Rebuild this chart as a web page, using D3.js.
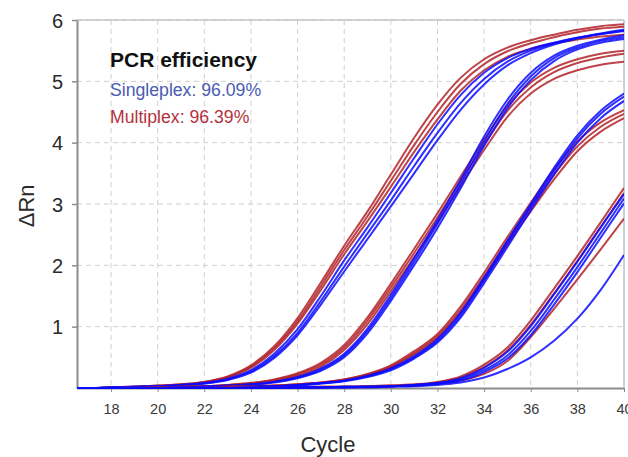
<!DOCTYPE html>
<html>
<head>
<meta charset="utf-8">
<script src="https://cdn.jsdelivr.net/npm/d3@7"></script>
<style>
  body { margin: 0; background: #fff; }
  #app { width: 628px; height: 457px; }
  .tick text { font-family: "Liberation Sans", Arial, sans-serif; }
</style>
</head>
<body>
<div id="app"></div>
<script>
const MARGIN = { top: 20, right: 4, bottom: 69, left: 77 }
const OUTER = { width: 628, height: 457 }
const INNER = {
  width: OUTER.width - MARGIN.left - MARGIN.right,
  height: OUTER.height - MARGIN.top - MARGIN.bottom,
};

// cycle numbers for each reading
const cycles = [16, 17, 18, 19, 20, 21, 22, 23, 24, 25, 26, 27, 28, 29, 30, 31, 32, 33, 34, 35, 36, 37, 38, 39, 40]
const xTicks = [18, 20, 22, 24, 26, 28, 30, 32, 34, 36, 38, 40]
const yTicks = [1, 2, 3, 4, 5, 6]

// multiplex (red) runs, four dilutions
const multiA1 = [0, 0, 0.01, 0.02, 0.04, 0.06, 0.1, 0.19, 0.37, 0.68, 1.14, 1.72, 2.32, 2.88, 3.48, 4.08, 4.62, 5.06, 5.36, 5.55, 5.67, 5.76, 5.84, 5.9, 5.93]
const multiA2 = [0, 0, 0.01, 0.02, 0.04, 0.06, 0.1, 0.18, 0.35, 0.65, 1.09, 1.66, 2.25, 2.8, 3.38, 3.96, 4.5, 4.96, 5.28, 5.49, 5.62, 5.72, 5.8, 5.86, 5.89]
const multiA3 = [0, 0, 0.01, 0.02, 0.03, 0.05, 0.09, 0.17, 0.33, 0.62, 1.05, 1.6, 2.18, 2.72, 3.28, 3.85, 4.38, 4.85, 5.18, 5.4, 5.53, 5.62, 5.68, 5.73, 5.76]
const multiB1 = [0, 0, 0, 0.01, 0.01, 0.02, 0.03, 0.05, 0.08, 0.14, 0.24, 0.41, 0.7, 1.15, 1.7, 2.27, 2.85, 3.45, 4.05, 4.6, 4.98, 5.22, 5.36, 5.45, 5.5]
const multiB2 = [0, 0, 0, 0.01, 0.01, 0.02, 0.03, 0.05, 0.08, 0.13, 0.22, 0.38, 0.66, 1.1, 1.64, 2.2, 2.78, 3.38, 3.97, 4.52, 4.9, 5.15, 5.3, 5.39, 5.45]
const multiB3 = [0, 0, 0, 0.01, 0.01, 0.02, 0.03, 0.04, 0.07, 0.12, 0.2, 0.35, 0.62, 1.04, 1.58, 2.13, 2.7, 3.3, 3.88, 4.42, 4.8, 5.04, 5.18, 5.27, 5.32]
const multiC1 = [0, 0, 0, 0, 0.01, 0.01, 0.01, 0.02, 0.03, 0.04, 0.06, 0.09, 0.14, 0.23, 0.37, 0.6, 0.88, 1.33, 1.88, 2.46, 3.02, 3.56, 4.02, 4.33, 4.53]
const multiC2 = [0, 0, 0, 0, 0.01, 0.01, 0.01, 0.02, 0.03, 0.04, 0.06, 0.09, 0.14, 0.22, 0.35, 0.57, 0.85, 1.28, 1.82, 2.4, 2.95, 3.48, 3.94, 4.26, 4.47]
const multiC3 = [0, 0, 0, 0, 0, 0.01, 0.01, 0.02, 0.02, 0.03, 0.05, 0.08, 0.13, 0.21, 0.34, 0.55, 0.82, 1.24, 1.77, 2.34, 2.88, 3.4, 3.86, 4.18, 4.4]
const multiD1 = [0, 0, 0, 0, 0, 0, 0, 0.01, 0.01, 0.01, 0.01, 0.02, 0.02, 0.03, 0.04, 0.06, 0.1, 0.19, 0.38, 0.66, 1.1, 1.62, 2.15, 2.7, 3.26]
const multiD2 = [0, 0, 0, 0, 0, 0, 0, 0.01, 0.01, 0.01, 0.01, 0.02, 0.02, 0.03, 0.04, 0.05, 0.09, 0.17, 0.34, 0.61, 1.03, 1.54, 2.07, 2.62, 3.18]
const multiD3 = [0, 0, 0, 0, 0, 0, 0, 0, 0.01, 0.01, 0.01, 0.01, 0.02, 0.02, 0.03, 0.04, 0.07, 0.12, 0.23, 0.44, 0.83, 1.29, 1.77, 2.26, 2.76]

// singleplex (blue) runs
const singleA1 = [0, 0, 0.01, 0.02, 0.03, 0.05, 0.08, 0.15, 0.29, 0.56, 0.96, 1.5, 2.08, 2.62, 3.18, 3.75, 4.3, 4.78, 5.14, 5.38, 5.53, 5.63, 5.71, 5.77, 5.83]
const singleA2 = [0, 0, 0.01, 0.02, 0.03, 0.05, 0.08, 0.14, 0.27, 0.52, 0.9, 1.42, 1.98, 2.52, 3.06, 3.62, 4.16, 4.65, 5.04, 5.32, 5.5, 5.62, 5.71, 5.78, 5.84]
const singleA3 = [0, 0, 0.01, 0.01, 0.03, 0.04, 0.07, 0.13, 0.25, 0.49, 0.86, 1.36, 1.9, 2.43, 2.96, 3.5, 4.04, 4.54, 4.95, 5.26, 5.46, 5.6, 5.7, 5.77, 5.82]
const singleB1 = [0, 0, 0, 0.01, 0.01, 0.02, 0.02, 0.04, 0.06, 0.1, 0.18, 0.32, 0.56, 0.97, 1.52, 2.12, 2.74, 3.4, 4.1, 4.7, 5.14, 5.42, 5.58, 5.68, 5.75]
const singleB2 = [0, 0, 0, 0.01, 0.01, 0.01, 0.02, 0.04, 0.06, 0.1, 0.17, 0.3, 0.53, 0.93, 1.47, 2.06, 2.68, 3.33, 4.02, 4.63, 5.08, 5.38, 5.55, 5.66, 5.72]
const singleB3 = [0, 0, 0, 0, 0.01, 0.01, 0.02, 0.03, 0.05, 0.09, 0.16, 0.28, 0.5, 0.89, 1.42, 2.0, 2.61, 3.26, 3.95, 4.56, 5.02, 5.33, 5.52, 5.63, 5.69]
const singleC1 = [0, 0, 0, 0, 0, 0.01, 0.01, 0.01, 0.02, 0.03, 0.05, 0.08, 0.12, 0.2, 0.32, 0.52, 0.8, 1.23, 1.8, 2.4, 3.0, 3.59, 4.12, 4.52, 4.8]
const singleC2 = [0, 0, 0, 0, 0, 0.01, 0.01, 0.01, 0.02, 0.03, 0.05, 0.08, 0.12, 0.19, 0.31, 0.5, 0.77, 1.19, 1.76, 2.36, 2.96, 3.54, 4.07, 4.47, 4.75]
const singleC3 = [0, 0, 0, 0, 0, 0, 0.01, 0.01, 0.02, 0.03, 0.04, 0.07, 0.11, 0.18, 0.29, 0.48, 0.74, 1.15, 1.71, 2.3, 2.9, 3.48, 4.0, 4.4, 4.68]
const singleD1 = [0, 0, 0, 0, 0, 0, 0, 0, 0.01, 0.01, 0.01, 0.01, 0.02, 0.02, 0.03, 0.05, 0.08, 0.16, 0.33, 0.59, 1.01, 1.53, 2.06, 2.62, 3.16]
const singleD2 = [0, 0, 0, 0, 0, 0, 0, 0, 0.01, 0.01, 0.01, 0.01, 0.02, 0.02, 0.03, 0.05, 0.08, 0.14, 0.29, 0.53, 0.93, 1.44, 1.97, 2.53, 3.09]
const singleD3 = [0, 0, 0, 0, 0, 0, 0, 0, 0, 0.01, 0.01, 0.01, 0.01, 0.02, 0.03, 0.04, 0.07, 0.12, 0.26, 0.48, 0.86, 1.36, 1.89, 2.45, 3.01]
const singleD4 = [0, 0, 0, 0, 0, 0, 0, 0, 0, 0, 0.01, 0.01, 0.01, 0.01, 0.02, 0.03, 0.05, 0.09, 0.17, 0.31, 0.5, 0.77, 1.13, 1.6, 2.17]

const legendTitle = "PCR efficiency"
const legendRows = [
  { label: "Singleplex: 96.09%", color: "#4a5bb3" },
  { label: "Multiplex: 96.39%", color: "#b3323c" },
]

const RED = "#b22228"
const BLUE = "#0a0aff"

// draw order: each dilution red first, blue over it
const runs = [
  [multiA1, RED], [multiA2, RED], [multiA3, RED],
  [singleA1, BLUE], [singleA2, BLUE], [singleA3, BLUE],
  [multiB1, RED], [multiB2, RED], [multiB3, RED],
  [singleB1, BLUE], [singleB2, BLUE], [singleB3, BLUE],
  [multiC1, RED], [multiC2, RED], [multiC3, RED],
  [singleC1, BLUE], [singleC2, BLUE], [singleC3, BLUE],
  [multiD1, RED], [multiD2, RED], [multiD3, RED],
  [singleD4, BLUE], [singleD1, BLUE], [singleD2, BLUE], [singleD3, BLUE],
]

const xScale = d3.scaleLinear()
  .domain([16.54, 40])
  .range([0, INNER.width])

const yScale = d3.scaleLinear()
  .domain([0, 6])
  .range([INNER.height, 0])

const line = d3.line()
  .x((d, i) => xScale(cycles[i]))
  .y(d => yScale(d))
  .curve(d3.curveMonotoneX);

const addChart = () => {
  const svg = d3.select('#app')
    .append('svg')
    .attr('width', OUTER.width)
    .attr('height', OUTER.height)
    .style('font-family', '"Liberation Sans", Arial, sans-serif');

  svg.append('defs').append('clipPath')
    .attr('id', 'plot-clip')
    .append('rect')
    .attr('x', 0).attr('y', -2)
    .attr('width', INNER.width).attr('height', INNER.height + 3);

  const g = svg.append('g')
    .attr('transform', `translate(${MARGIN.left}, ${MARGIN.top})`);

  // dashed grid
  g.append('g')
    .selectAll('line')
    .data(xTicks)
    .join('line')
    .attr('x1', d => xScale(d)).attr('x2', d => xScale(d))
    .attr('y1', 0).attr('y2', INNER.height)
    .attr('stroke', '#cfcfcf')
    .attr('stroke-dasharray', '5,4');
  g.append('g')
    .selectAll('line')
    .data(yTicks)
    .join('line')
    .attr('x1', 0).attr('x2', INNER.width)
    .attr('y1', d => yScale(d)).attr('y2', d => yScale(d))
    .attr('stroke', '#cfcfcf')
    .attr('stroke-dasharray', '5,4');

  // frame
  g.append('line')
    .attr('x1', 0).attr('x2', INNER.width)
    .attr('y1', 0).attr('y2', 0)
    .attr('stroke', '#c4c4c4').attr('stroke-width', 1.5);
  g.append('line')
    .attr('x1', INNER.width).attr('x2', INNER.width)
    .attr('y1', 0).attr('y2', INNER.height)
    .attr('stroke', '#c4c4c4').attr('stroke-width', 1.5);

  const yAxis = g.append('g')
    .attr('class', 'y-axis')
    .call(d3.axisLeft(yScale).tickValues(yTicks).tickFormat(d3.format('d'))
      .tickSize(5).tickPadding(9).tickSizeOuter(0));
  yAxis.select('.domain').attr('stroke', '#8c8c8c').attr('stroke-width', 2);
  yAxis.selectAll('.tick line').attr('stroke', '#8c8c8c').attr('stroke-width', 1.5);
  yAxis.selectAll('.tick text')
    .attr('font-size', 20)
    .attr('fill', '#2a2a2a')
    .attr('dy', '0.36em');

  const xAxis = g.append('g')
    .attr('class', 'x-axis')
    .attr('transform', `translate(0, ${INNER.height})`)
    .call(d3.axisBottom(xScale).tickValues(xTicks).tickSize(4).tickPadding(12).tickSizeOuter(0));
  xAxis.select('.domain').attr('stroke', '#8c8c8c').attr('stroke-width', 2);
  xAxis.selectAll('.tick line').attr('stroke', '#8c8c8c');
  xAxis.selectAll('.tick text')
    .attr('font-size', 14.5)
    .attr('fill', '#3a3a3a');

  // amplification curves
  g.append('g')
    .attr('clip-path', 'url(#plot-clip)')
    .selectAll('path')
    .data(runs)
    .join('path')
    .attr('d', d => line(d[0]))
    .attr('fill', 'none')
    .attr('stroke', d => d[1])
    .attr('stroke-width', 2)
    .attr('stroke-opacity', 0.85);

  // axis titles
  svg.append('text')
    .attr('x', 328)
    .attr('y', 452)
    .attr('text-anchor', 'middle')
    .attr('font-size', 22)
    .attr('fill', '#2a2a2a')
    .text('Cycle');
  svg.append('text')
    .attr('transform', `translate(34, ${MARGIN.top + yScale(2.97)}) rotate(-90)`)
    .attr('text-anchor', 'middle')
    .attr('font-size', 22)
    .attr('fill', '#2a2a2a')
    .text('ΔRn');

  // efficiency note
  const note = svg.append('g').attr('transform', 'translate(110, 0)');
  note.append('text')
    .attr('y', 67)
    .attr('font-size', 21)
    .attr('font-weight', 'bold')
    .attr('fill', '#111')
    .text(legendTitle);
  note.selectAll('text.row')
    .data(legendRows)
    .join('text')
    .attr('class', 'row')
    .attr('transform', (d, i) => `translate(0, ${96 + i * 27}) scale(0.93, 1)`)
    .attr('font-size', 19)
    .attr('fill', d => d.color)
    .text(d => d.label);

  return g;
}

const init = () => {
  addChart();
}

init();
</script>
</body>
</html>
